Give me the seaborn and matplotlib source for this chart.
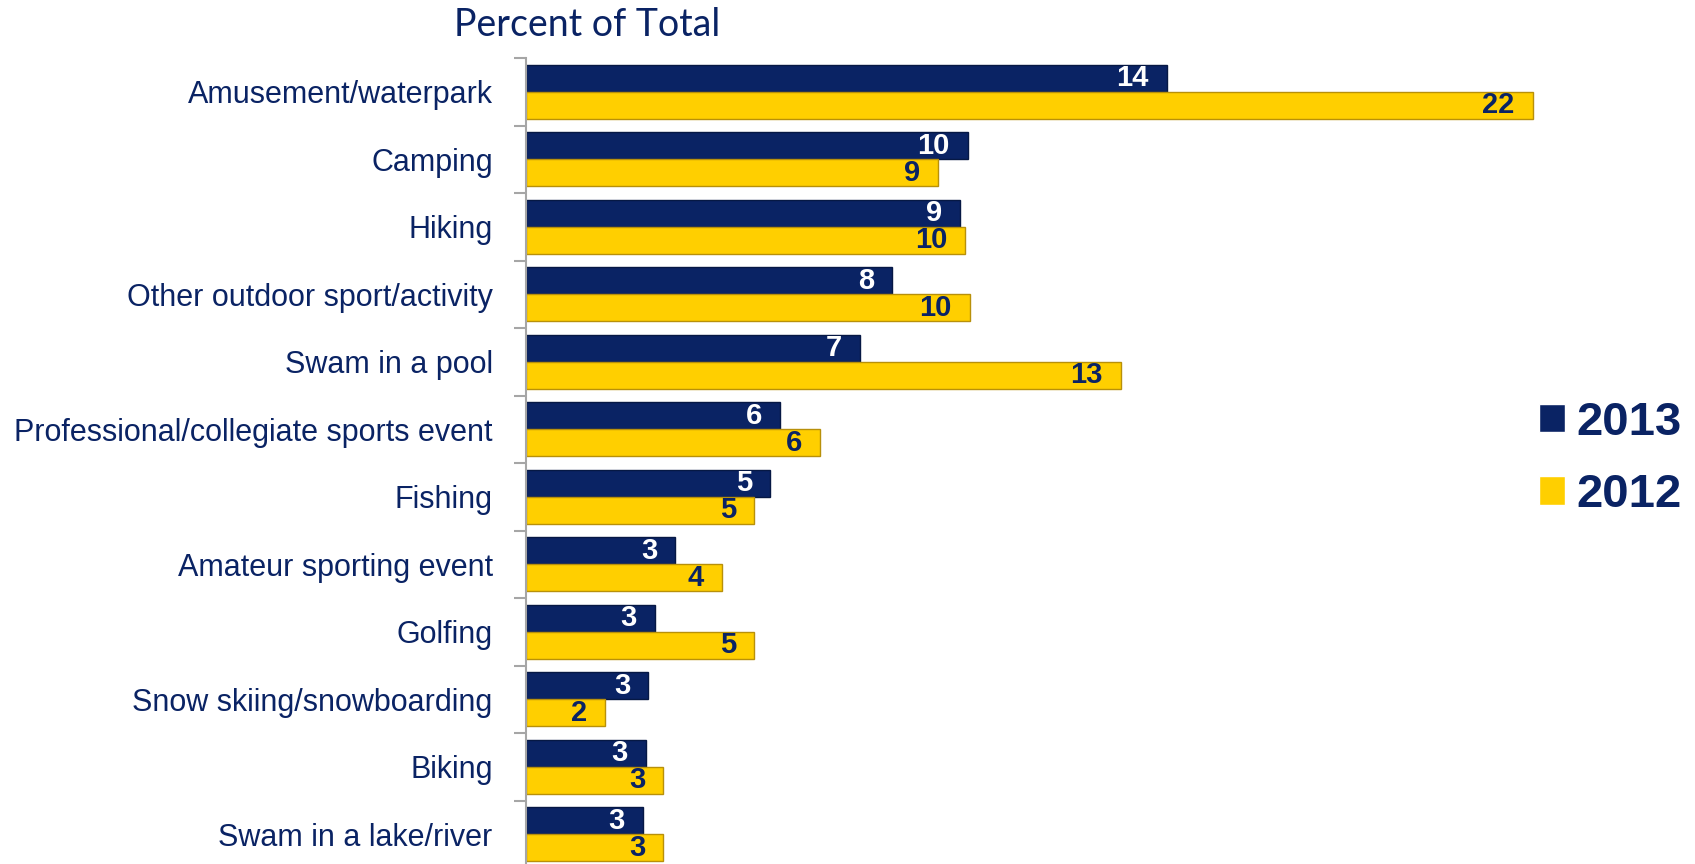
import pandas as pd
import seaborn as sns
import numpy as np
import matplotlib.pyplot as plt
import matplotlib.ticker as ticker

# data (bar lengths, labels are rounded)
activities = ["Amusement/waterpark", "Camping", "Hiking", "Other outdoor sport/activity",
              "Swam in a pool", "Professional/collegiate sports event", "Fishing",
              "Amateur sporting event", "Golfing", "Snow skiing/snowboarding", "Biking",
              "Swam in a lake/river"]
vals_2013 = [14.0, 9.65, 9.48, 8.0, 7.3, 5.56, 5.34, 3.26, 2.81, 2.67, 2.62, 2.55]
vals_2012 = [22.0, 9.0, 9.6, 9.7, 13.0, 6.43, 4.99, 4.28, 4.99, 1.73, 3.0, 3.0]
years = ["2013", "2012"]

navy = "#0A2364"
gold = "#FFCF00"

df = pd.DataFrame({
    "Activity": activities * 2,
    "Percent": vals_2013 + vals_2012,
    "Year": [years[0]] * len(activities) + [years[1]] * len(activities),
})

sns.set_style("white")
plt.rcParams["font.family"] = ["Liberation Sans", "DejaVu Sans"]

fig = plt.figure(figsize=(16.95, 8.64), dpi=100)
ax = fig.add_axes([526 / 1695, -4 / 864, 1144 / 1695, 810 / 864])

bars = sns.barplot(data=df, y="Activity", x="Percent", hue="Year", hue_order=years,
                   palette=[navy, gold], orient="h", width=0.8, ax=ax,
                   linewidth=1.0, saturation=1)
edge_cols = ["#061844", "#B8900A"]
for c, ec in zip(ax.containers, edge_cols):
    for p in c:
        p.set_edgecolor(ec)

# value labels inside bar ends
txt_col = ["white", navy]
for c, col in zip(ax.containers, txt_col):
    for p in c:
        w = p.get_width()
        ax.annotate(format(round(w), "d"), (w, p.get_y() + p.get_height() / 2),
                    xytext=(-13, 0), textcoords="offset points", ha="right", va="center",
                    color=col, fontsize=21, fontweight="bold")

ax.set_xlim(0, 25)
ax.set(xlabel=None, ylabel=None)
ax.xaxis.set_visible(False)
for s in ["top", "right", "bottom"]:
    ax.spines[s].set_visible(False)
ax.spines["left"].set_color("#A6A6A6")
ax.spines["left"].set_linewidth(1.5)

ax.tick_params(axis="y", which="major", length=0, pad=24, labelsize=22, labelcolor=navy)
ax.yaxis.set_minor_locator(ticker.FixedLocator(np.arange(-0.5, len(activities), 1)))
ax.tick_params(axis="y", which="minor", length=9, width=1.5, color="#A6A6A6", left=True)

ax.get_legend().remove()
handles, labels = ax.get_legend_handles_labels()
leg = fig.legend(handles, labels, loc="center left", bbox_to_anchor=(1539 / 1695, 1 - 459 / 864),
                 frameon=False, borderpad=0, borderaxespad=0, handlelength=0.55, handleheight=0.55,
                 handletextpad=0.25, labelspacing=0.6, prop={"size": 34, "weight": "bold"})
for t in leg.get_texts():
    t.set_color(navy)

fig.text(454 / 1695, 1 - 25 / 864, "Percent of Total", ha="left", va="center",
         fontsize=27, color=navy, family=["Lato", "DejaVu Sans"])

plt.savefig("out.png", dpi=100)
